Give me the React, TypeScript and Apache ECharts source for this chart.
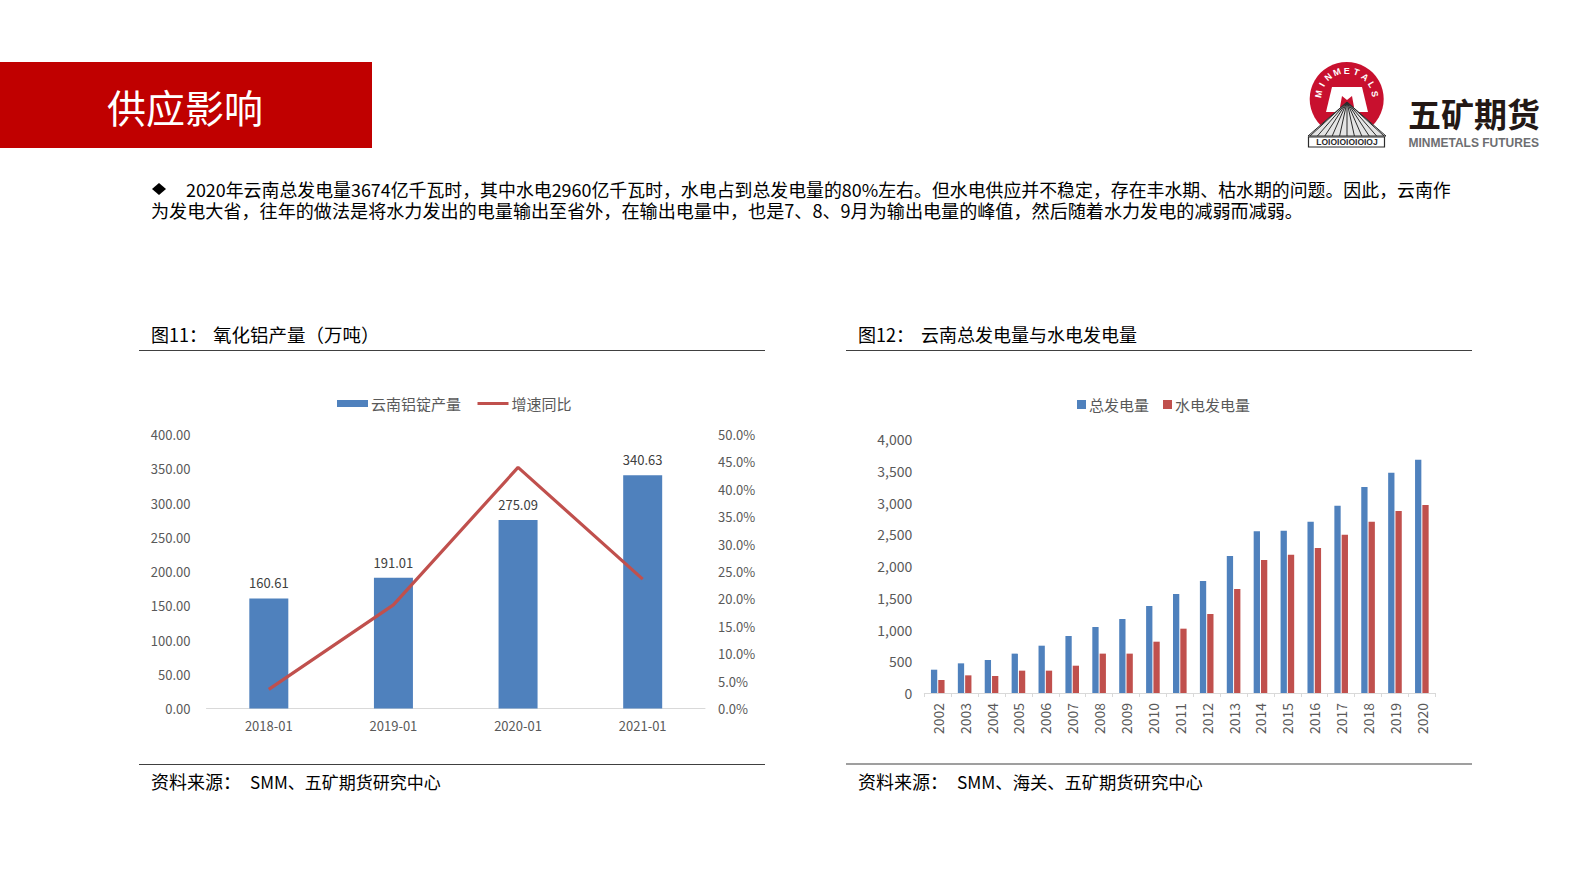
import React, { useEffect, useRef } from "react";
import * as echarts from "echarts";

const aluCategories = ["2018-01", "2019-01", "2020-01", "2021-01"];
const aluOutput = [160.61, 191.01, 275.09, 340.63];
const aluGrowth = [3.5, 18.9, 44.0, 23.6];
const years = ["2002","2003","2004","2005","2006","2007","2008","2009","2010","2011","2012","2013","2014","2015","2016","2017","2018","2019","2020"];
const totalPower = [367,467,520,620,745,898,1039,1165,1370,1559,1764,2157,2546,2556,2698,2950,3244,3470,3674];
const hydroPower = [205,278,268,352,352,430,620,620,808,1013,1244,1638,2094,2178,2283,2493,2698,2866,2960];

const BODY1 = "2020年云南总发电量3674亿千瓦时，其中水电2960亿千瓦时，水电占到总发电量的80%左右。但水电供应并不稳定，存在丰水期、枯水期的问题。因此，云南作";
const BODY2 = "为发电大省，往年的做法是将水力发出的电量输出至省外，在输出电量中，也是7、8、9月为输出电量的峰值，然后随着水力发电的减弱而减弱。";
const CJK = '"Noto Sans CJK SC", sans-serif';
const AXIS = '"Noto Sans CJK SC", "Open Sans", sans-serif';
const LABEL = "#595959";

function logoElements(): any[] {
  const cx = 1346.7, cy = 99, r = 37;
  const word = "MINMETALS".split("");
  const letters = word.map((ch, i) => {
    const a = (-80 + (i * 160) / 8) * (Math.PI / 180);
    return {
      type: "text", x: cx + 28.5 * Math.sin(a), y: cy - 28.5 * Math.cos(a), rotation: -a,
      style: { text: ch, fill: "#fff", font: 'bold 9px "Liberation Sans"', textAlign: "center", textVerticalAlign: "middle" },
    };
  });
  const rays: any[] = [];
  for (let i = 0; i <= 10; i++) {
    rays.push({
      type: "line",
      shape: { x1: 1347, y1: 102, x2: 1310 + i * 7.4, y2: 136 },
      style: { stroke: "#2b2b2b", lineWidth: 1 },
    });
  }
  return [
    { type: "circle", shape: { cx, cy, r }, style: { fill: "#C8102E" } },
    ...letters,
    { type: "polygon", shape: { points: [[1332,87],[1362,87],[1368,112],[1326,112]] }, style: { fill: "#fff" } },
    { type: "polygon", shape: { points: [[1340,107],[1342,96],[1347,100],[1352,96],[1354,107]] }, style: { fill: "#C8102E" } },
    { type: "polygon", shape: { points: [[1347,102],[1308,136],[1386,136]] }, style: { fill: "#e4e4e4", stroke: "#2b2b2b", lineWidth: 1 } },
    ...rays,
    { type: "rect", shape: { x: 1308.5, y: 137, width: 76, height: 10 }, style: { fill: "#fff", stroke: "#2b2b2b", lineWidth: 1.2 } },
    { type: "text", x: 1347, y: 142, style: { text: "LOIOIOIOIOIOJ", fill: "#2b2b2b", font: 'bold 8.5px "Liberation Sans"', textAlign: "center", textVerticalAlign: "middle" } },
    { type: "text", x: 1408, y: 113, style: { text: "五矿期货", fill: "#231815", font: `bold 33px ${CJK}`, textVerticalAlign: "middle" } },
    { type: "text", x: 1408.5, y: 143, style: { text: "MINMETALS FUTURES", fill: "#6d6e71", font: 'bold 12px "Liberation Sans"', textVerticalAlign: "middle" } },
  ];
}

function text(x: number, y: number, t: string, font: string, fill = "#000", textAlign = "left") {
  return { type: "text", x, y, style: { text: t, font, fill, textAlign, textVerticalAlign: "middle" } };
}

function hline(x1: number, x2: number, y: number) {
  return { type: "line", shape: { x1, y1: y, x2, y2: y }, style: { stroke: "#404040", lineWidth: 1.2 } };
}

export default function App() {
  const ref = useRef<HTMLDivElement>(null);
  useEffect(() => {
    const chart = echarts.init(ref.current!, undefined, { renderer: "svg" });
    const axisLabel = { color: LABEL, fontSize: 13, fontFamily: AXIS };
    chart.setOption({
      animation: false,
      backgroundColor: "#fff",
      legend: [
        {
          left: 332, top: 391, itemWidth: 31, itemHeight: 7, icon: "rect",
          data: ["云南铝锭产量"],
          textStyle: { color: LABEL, fontSize: 15, fontFamily: CJK, padding: [0, 0, 0, -2] },
        },
        {
          left: 472.5, top: 391, itemWidth: 31, itemHeight: 3, icon: "rect",
          data: ["增速同比"],
          textStyle: { color: LABEL, fontSize: 15, fontFamily: CJK, padding: [0, 0, 0, -2] },
        },
        {
          left: 1072, top: 392, itemWidth: 9, itemHeight: 9, itemGap: 14, icon: "rect",
          data: ["总发电量", "水电发电量"],
          textStyle: { color: LABEL, fontSize: 15, fontFamily: CJK, padding: [0, 0, 0, -2] },
        },
      ],
      grid: [
        { left: 206.5, width: 498.5, top: 434.5, height: 274 },
        { left: 924.3, width: 511, top: 439, height: 254 },
      ],
      xAxis: [
        {
          type: "category", gridIndex: 0, data: aluCategories,
          axisLine: { lineStyle: { color: "#D9D9D9" } }, axisTick: { show: false },
          axisLabel: { ...axisLabel, margin: 10 },
        },
        {
          type: "category", gridIndex: 1, data: years,
          axisLine: { lineStyle: { color: "#D9D9D9" } },
          axisTick: { show: true, length: 4, lineStyle: { color: "#D9D9D9" } },
          axisLabel: { ...axisLabel, fontSize: 14, rotate: 90, margin: 10, interval: 0 },
        },
      ],
      yAxis: [
        {
          type: "value", gridIndex: 0, min: 0, max: 400, interval: 50,
          axisLine: { show: false }, axisTick: { show: false }, splitLine: { show: false },
          axisLabel: { ...axisLabel, margin: 16, formatter: (v: number) => v.toFixed(2) },
        },
        {
          type: "value", gridIndex: 0, position: "right", min: 0, max: 50, interval: 5,
          axisLine: { show: false }, axisTick: { show: false }, splitLine: { show: false },
          axisLabel: { ...axisLabel, margin: 13, formatter: (v: number) => v.toFixed(1) + "%" },
        },
        {
          type: "value", gridIndex: 1, min: 0, max: 4000, interval: 500,
          axisLine: { show: false }, axisTick: { show: false }, splitLine: { show: false },
          axisLabel: { ...axisLabel, fontSize: 14, margin: 12, formatter: (v: number) => v.toLocaleString("en-US") },
        },
      ],
      series: [
        {
          name: "云南铝锭产量", type: "bar", xAxisIndex: 0, yAxisIndex: 0, data: aluOutput, barWidth: 39,
          itemStyle: { color: "#4F81BD" },
          label: { show: true, position: "top", distance: 9, color: "#404040", fontSize: 13, fontFamily: AXIS, formatter: (p: any) => p.value.toFixed(2) },
        },
        {
          name: "增速同比", type: "line", xAxisIndex: 0, yAxisIndex: 1, data: aluGrowth,
          showSymbol: false, symbol: "none", lineStyle: { color: "#C0504D", width: 3.2 }, itemStyle: { color: "#C0504D" },
        },
        {
          name: "总发电量", type: "bar", xAxisIndex: 1, yAxisIndex: 2, data: totalPower, barWidth: 6.3, barGap: "16%",
          itemStyle: { color: "#4F81BD" },
        },
        {
          name: "水电发电量", type: "bar", xAxisIndex: 1, yAxisIndex: 2, data: hydroPower, barWidth: 6.3, barGap: "16%",
          itemStyle: { color: "#C0504D" },
        },
      ],
      graphic: [
        { type: "rect", shape: { x: 0, y: 62, width: 372, height: 86 }, style: { fill: "#C00000" } },
        text(107, 106, "供应影响", `39px ${CJK}`, "#fff"),
        ...logoElements(),
        { type: "polygon", shape: { points: [[152,189],[159,183],[166,189],[159,195]] }, style: { fill: "#000" } },
        text(186, 188.6, BODY1, `17.9px ${CJK}`),
        text(151, 210.4, BODY2, `18.1px ${CJK}`),
        text(151, 333.5, "图11：", `18px ${CJK}`),
        text(213, 333.5, "氧化铝产量（万吨）", `18.5px ${CJK}`),
        text(858, 333.5, "图12：", `18px ${CJK}`),
        text(921, 333.5, "云南总发电量与水电发电量", `18px ${CJK}`),
        hline(139, 765, 350.5),
        hline(846, 1472, 350.5),
        hline(139, 765, 764.5),
        hline(846, 1472, 764),
        text(151, 781, "资料来源：", `18px ${CJK}`),
        text(250, 781, "SMM、五矿期货研究中心", `17px ${CJK}`),
        text(858, 781, "资料来源：", `18px ${CJK}`),
        text(957, 781, "SMM、海关、五矿期货研究中心", `17.3px ${CJK}`),
      ],
    });
    return () => chart.dispose();
  }, []);
  return <div ref={ref} style={{ position: "absolute", left: 0, top: 0, width: 1587, height: 892 }} />;
}
